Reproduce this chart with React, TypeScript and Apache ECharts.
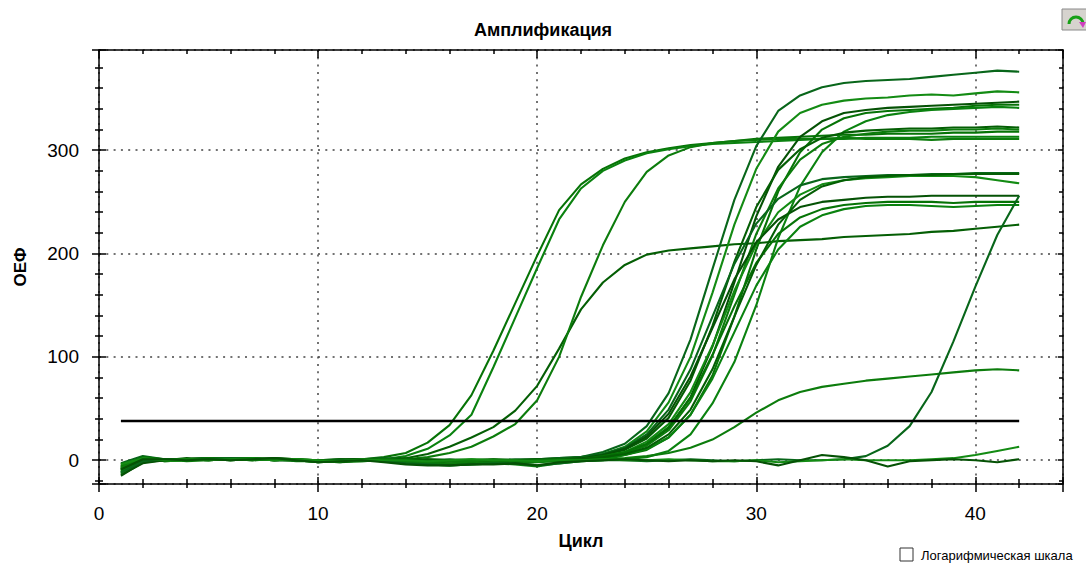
import React, { useEffect, useRef } from "react";
import * as echarts from "echarts";

// Amplification curves: fluorescence (ОЕФ) per PCR cycle 1..42
const cycles = [
  1, 2, 3, 4, 5, 6, 7, 8, 9, 10, 11, 12, 13, 14, 15, 16, 17, 18, 19, 20, 21,
  22, 23, 24, 25, 26, 27, 28, 29, 30, 31, 32, 33, 34, 35, 36, 37, 38, 39, 40, 41, 42,
];

const xTicks = [0, 10, 20, 30, 40];
const yTicks = [0, 100, 200, 300];
const thresholdValue = 38;
const thresholdCycles = [1, 42];

// early samples
const sampleA1 = [
  -6, 1, 0, 1, 2, 1, 2, 1, 0, -1, 0, 1,
  3, 7, 17, 34, 63, 106, 152, 198, 242, 267, 282, 292, 298, 302, 305, 307, 309, 311,
  312, 313, 314, 315, 315, 316, 316, 316, 317, 317, 318, 318,
];
const sampleA2 = [
  -10, -2, 1, 0, 1, 2, 1, 0, 1, -1, -1, 0,
  1, 4, 11, 24, 44, 90, 138, 186, 233, 263, 280, 290, 297, 301, 304, 306, 307, 308,
  309, 310, 311, 311, 312, 312, 312, 313, 313, 313, 313, 313,
];
const sampleB1 = [
  -4, 2, -1, 0, 1, 1, 0, 2, 1, -2, -1, 0, 1,
  2, 6, 13, 22, 32, 48, 72, 108, 146, 172, 189, 199, 203, 205, 207, 209, 210,
  212, 213, 214, 216, 217, 218, 219, 221, 222, 224, 226, 228,
];
const sampleB2 = [
  -8, 0, 1, -1, 0, 1, 2, 1, 0, -1, -2, -1, 0, 1,
  3, 7, 13, 23, 35, 58, 100, 158, 208, 250, 279, 295, 303, 307, 309, 310,
  311, 311, 311, 312, 311, 311, 311, 310, 311, 311, 311, 311,
];

// main cluster
const sampleM1 = [
  -12, 3, 0, 1, 2, 1, 1, 0, 0, -2, 0, 1, 2, 1, 0, -1, 0, 0, -1, 0, 1,
  3, 8, 16, 33, 65, 117, 185, 252, 304, 338, 353, 361, 365, 367, 368, 369, 371, 373, 375, 377, 376,
];
const sampleM2 = [
  -9, 2, -1, 0, 1, 2, 1, 1, -1, -1, 1, 0, -1, -2, -1, 0, 1, 0, -1, 1, 0,
  2, 6, 13, 28, 56, 100, 162, 228, 282, 318, 336, 344, 348, 350, 351, 353, 354, 353, 355, 357, 356,
];
const sampleM3 = [
  -14, -3, 0, 1, 0, 2, 1, 1, 0, -1, -2, 0, 1, 1, 0, -1, -1, 0, -2, -1, 0, 1,
  3, 7, 15, 31, 61, 110, 172, 236, 284, 313, 328, 336, 339, 341, 342, 343, 344, 345, 346, 347,
];
const sampleM4 = [
  -7, 1, 1, 0, 1, 1, 2, 0, 1, 0, -1, -1, 0, 1, 0, 0, -1, -1, 0, 0, 1, 1,
  2, 5, 10, 22, 44, 82, 139, 204, 260, 298, 320, 331, 336, 338, 339, 340, 341, 343, 344, 344,
];
const sampleM5 = [
  -11, 0, 0, 1, 2, 0, 1, 1, 0, -1, -1, 1, 0, -1, -3, -4, -3, -2, -3, -2, -1, 0, 0,
  1, 3, 9, 25, 55, 95, 150, 215, 265, 298, 318, 328, 334, 337, 339, 340, 341, 342, 341,
];
const sampleM6 = [
  -5, 2, 1, 1, 0, 1, 1, 2, 1, 0, 0, 1, 1, 0, 1, 0, 0, 1, 0, 1, 2,
  3, 5, 10, 21, 41, 77, 130, 192, 245, 281, 301, 312, 317, 319, 320, 321, 321, 322, 322, 323, 322,
];
const sampleM7 = [
  -13, -1, 1, 0, 1, 1, 0, 1, 0, -2, -1, 0, 0, -1, -2, -3, -2, -1, -2, -1, 0, 1,
  3, 7, 14, 29, 57, 101, 160, 219, 263, 291, 306, 313, 316, 318, 319, 319, 320, 320, 321, 320,
];
const sampleM8 = [
  -3, 4, 1, 1, 2, 2, 1, 1, 0, 0, 1, 1, 1, 0, 0, 1, 0, 0, 1, 1, 2,
  3, 6, 12, 25, 49, 88, 139, 190, 229, 253, 266, 272, 274, 275, 276, 276, 277, 277, 278, 278, 278,
];
const sampleM9 = [
  -9, 1, 0, 0, 1, 2, 1, 0, 1, -1, 0, 0, 1, 0, -1, 0, 0, -1, 0, 0, 1, 2,
  4, 8, 18, 35, 66, 111, 164, 209, 240, 257, 267, 271, 273, 274, 275, 275, 275, 274, 271, 268,
];
const sampleM10 = [
  -15, -2, 0, 1, 1, 0, 1, 1, 0, -1, 0, 1, 0, 0, -1, -1, 0, 0, -1, 0, 1, 2,
  5, 11, 23, 45, 81, 128, 175, 211, 233, 245, 250, 252, 254, 255, 255, 256, 256, 256, 256, 256,
];
const sampleM11 = [
  -6, 3, 1, 0, 2, 1, 0, 1, 1, 0, -1, 0, 1, 0, 0, -1, 0, 1, 0, 0, 1, 1,
  4, 8, 16, 32, 60, 102, 149, 191, 219, 235, 243, 247, 249, 250, 250, 250, 249, 250, 250, 250,
];
const sampleM12 = [
  -10, 0, 1, 1, 0, 1, 2, 1, 0, -1, -1, 0, 0, -2, -4, -5, -4, -3, -4, -6, -3, -1, 0,
  5, 11, 22, 44, 79, 124, 169, 204, 226, 237, 243, 246, 247, 247, 246, 245, 246, 247, 247,
];
const sampleM13 = [
  -8, 1, 0, 2, 1, 1, 1, 0, 0, 0, 1, 1, 0, 0, 1, 0, -1, 0, 0, 1, 0, 1,
  3, 6, 12, 25, 49, 88, 139, 189, 228, 252, 265, 271, 274, 275, 276, 276, 277, 277, 277, 277,
];

// late and weak samples
const sampleL1 = [
  -7, 2, 0, 1, 1, 0, 1, 1, 0, -1, 0, 0, -1, -2, -2, -1, -1, 0, -1, 0, 0, 0,
  1, 2, 4, 7, 12, 20, 32, 46, 58, 66, 71, 74, 77, 79, 81, 83, 85, 87, 88, 87,
];
const sampleL2 = [
  -12, -1, 1, 0, 1, 2, 1, 0, 0, -1, 0, 0, -1, -3, -4, -5, -4, -3, -3, -5, -3, -1, 0,
  0, -1, 0, 1, 0, -1, 0, 1, 0, 0,
  1, 4, 14, 33, 66, 115, 168, 218, 256,
];
const sampleL3 = [
  -4, 2, 0, 1, 0, 1, 1, 0, 1, 0, -1, 1, 0, 0, -1, 0, 1, 0, 0, -1,
  0, 0, 1, 0, 0, 1, 0, -1, -1, 0, -2, -1, 0, 1, 0, 0, 0, 1, 2,
  5, 9, 13,
];
const sampleL4 = [
  -9, 1, 1, 0, 1, 0, 1, 2, 0, -2, -1, 0, -2, -4, -5, -5, -4, -4, -3, -5,
  -2, -1, 0, 1, 0, -1, 0, -1, 0, -1, -5, 0, 5, 3, 0, -6, -1, 0, 1, 0, -2, 1,
];

const samples = [
  sampleA1, sampleA2, sampleB1, sampleB2,
  sampleM1, sampleM2, sampleM3, sampleM4, sampleM5, sampleM6, sampleM7,
  sampleM8, sampleM9, sampleM10, sampleM11, sampleM12, sampleM13,
  sampleL1, sampleL2, sampleL3, sampleL4,
];

const greens = ["#067306", "#0a820f", "#045e04", "#0c7c0c", "#08661a", "#138b13", "#055205"];
const FONT = '"Liberation Sans", Arial, Helvetica, sans-serif';

export default function App() {
  const ref = useRef<HTMLDivElement>(null);

  useEffect(() => {
    if (!ref.current) return;
    const chart = echarts.init(ref.current, null, { renderer: "svg" });

    const axisColor = "#000";
    const gridLine = { show: true, lineStyle: { color: "#444", width: 1.5, type: [2, 5.3] } };

    const curveSeries = samples.map((vals, i) => ({
      type: "line",
      name: "sample" + (i + 1),
      data: vals.map((v, j) => [cycles[j], v]),
      showSymbol: false,
      symbol: "none",
      silent: true,
      lineStyle: { width: 2.1, color: greens[i % greens.length] },
      itemStyle: { color: greens[i % greens.length] },
      z: 2,
    }));

    const thresholdSeries = {
      type: "line",
      name: "threshold",
      data: thresholdCycles.map((c) => [c, thresholdValue]),
      showSymbol: false,
      symbol: "none",
      silent: true,
      lineStyle: { width: 2.5, color: "#000" },
      z: 3,
    };

    const hiddenLabel = { show: false };

    chart.setOption({
      animation: false,
      textStyle: { fontFamily: FONT },
      title: {
        text: "Амплификация",
        left: "center",
        top: 16,
        textStyle: { fontSize: 18, fontWeight: "bold", color: "#000", fontFamily: FONT },
      },
      grid: { left: 99, top: 50, right: 23, bottom: 79, containLabel: false, outerBoundsMode: "none" },
      xAxis: [
        {
          type: "value",
          position: "bottom",
          min: 0,
          max: 44,
          interval: 10,
          axisLine: { show: true, onZero: false, lineStyle: { color: axisColor, width: 1.5 } },
          axisTick: { show: true, length: 8, lineStyle: { color: axisColor, width: 1.5 } },
          minorTick: { show: true, splitNumber: 5, length: 4, lineStyle: { color: axisColor, width: 1.5 } },
          axisLabel: {
            color: "#000",
            fontSize: 19,
            margin: 20,
            fontFamily: FONT,
            showMaxLabel: false,
            formatter: (v: number) => (xTicks.includes(v) ? String(v) : ""),
          },
          splitLine: gridLine,
          name: "Цикл",
          nameLocation: "middle",
          nameGap: 48,
          nameTextStyle: { fontSize: 18, fontWeight: "bold", color: "#000", fontFamily: FONT },
        },
        {
          type: "value",
          position: "top",
          min: 0,
          max: 44,
          interval: 10,
          axisLine: { show: true, onZero: false, lineStyle: { color: axisColor, width: 1.5 } },
          axisTick: { show: true, inside: true, length: 8, lineStyle: { color: axisColor, width: 1.5 } },
          minorTick: { show: true, splitNumber: 5, length: 4, lineStyle: { color: axisColor, width: 1.5 } },
          axisLabel: hiddenLabel,
          splitLine: { show: false },
        },
        {
          type: "value",
          position: "bottom",
          min: 0,
          max: 44,
          interval: 10,
          axisLine: { show: false, onZero: false },
          axisTick: { show: true, inside: true, length: 7, lineStyle: { color: axisColor, width: 1.5 } },
          minorTick: { show: true, splitNumber: 5, length: 5, lineStyle: { color: axisColor, width: 1.5 } },
          axisLabel: hiddenLabel,
          splitLine: { show: false },
        },
      ],
      yAxis: [
        {
          type: "value",
          position: "left",
          min: -23,
          max: 397,
          axisLine: { show: true, onZero: false, lineStyle: { color: axisColor, width: 1.5 } },
          axisTick: { show: true, length: 7, lineStyle: { color: axisColor, width: 1.5 } },
          minorTick: { show: true, splitNumber: 5, length: 4, lineStyle: { color: axisColor, width: 1.5 } },
          axisLabel: {
            color: "#000",
            fontSize: 19,
            margin: 20,
            fontFamily: FONT,
            showMinLabel: false,
            showMaxLabel: false,
            formatter: (v: number) => (yTicks.includes(v) ? String(v) : ""),
          },
          splitLine: gridLine,
          name: "ОЕФ",
          nameLocation: "middle",
          nameGap: 70,
          nameTextStyle: { fontSize: 17, fontWeight: "bold", color: "#000", fontFamily: FONT },
        },
        {
          type: "value",
          position: "left",
          min: -23,
          max: 397,
          axisLine: { show: false, onZero: false },
          axisTick: { show: true, inside: true, length: 7, lineStyle: { color: axisColor, width: 1.5 } },
          minorTick: { show: true, splitNumber: 5, length: 4, lineStyle: { color: axisColor, width: 1.5 } },
          axisLabel: hiddenLabel,
          splitLine: { show: false },
        },
        {
          type: "value",
          position: "right",
          min: -23,
          max: 397,
          axisLine: { show: true, onZero: false, lineStyle: { color: axisColor, width: 1.5 } },
          axisTick: { show: true, inside: true, length: 5, lineStyle: { color: axisColor, width: 1.5 } },
          minorTick: { show: true, splitNumber: 5, length: 4, lineStyle: { color: axisColor, width: 1.5 } },
          axisLabel: hiddenLabel,
          splitLine: { show: false },
        },
      ],
      series: [...curveSeries, thresholdSeries],
      graphic: [
        {
          type: "rect",
          shape: { x: 900, y: 548, width: 13, height: 13 },
          style: { fill: "#fff", stroke: "#333", lineWidth: 1 },
        },
        {
          type: "text",
          x: 921,
          y: 555,
          style: {
            text: "Логарифмическая шкала",
            fontSize: 13,
            fontFamily: FONT,
            fill: "#000",
            verticalAlign: "middle",
            align: "left",
          },
        },
        {
          type: "rect",
          shape: { x: 1062, y: 9, width: 30, height: 21 },
          style: { fill: "#d6d3ce", stroke: "#8a8a8a", lineWidth: 1 },
        },
        {
          type: "arc",
          shape: { cx: 1076, cy: 24, r: 7, startAngle: Math.PI, endAngle: Math.PI * 2 },
          style: { stroke: "#17a017", lineWidth: 3, fill: "none" },
        },
        {
          type: "polygon",
          shape: { points: [[1079, 22], [1086, 22], [1083, 28]] },
          style: { fill: "#d040c0" },
        },
      ],
    });

    return () => chart.dispose();
  }, []);

  return (
    <div
      ref={ref}
      style={{ position: "fixed", left: 0, top: 0, width: 1086, height: 563, background: "#fff" }}
    />
  );
}
